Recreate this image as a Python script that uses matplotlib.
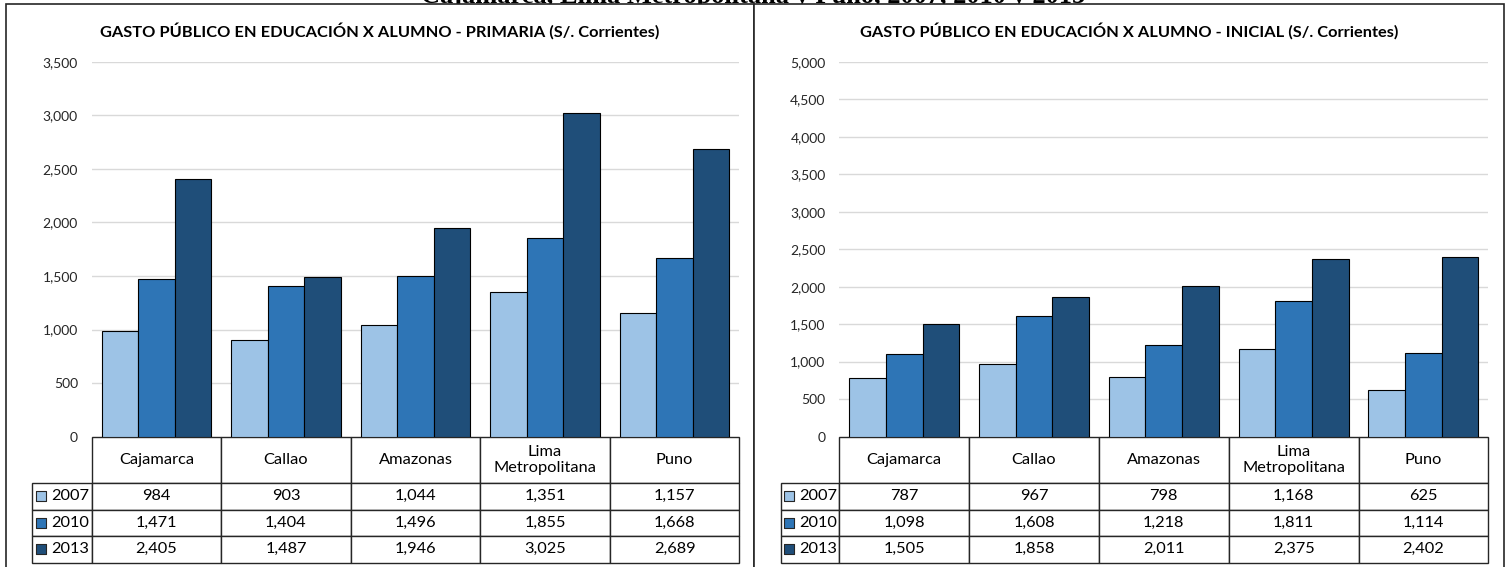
"""
Gasto público en educación por alumno - Primaria e Inicial.
Dos paneles con barras agrupadas y tabla de datos debajo.
"""

import matplotlib
matplotlib.use("Agg")
import matplotlib.pyplot as plt
from matplotlib.table import Table
from matplotlib.patches import Rectangle

W, H = 1507, 567

categories = ["Cajamarca", "Callao", "Amazonas", "Lima\nMetropolitana", "Puno"]
years = ["2007", "2010", "2013"]
colors = ["#9DC3E6", "#2E75B6", "#1F4E79"]

primaria_2007 = [984, 903, 1044, 1351, 1157]
primaria_2010 = [1471, 1404, 1496, 1855, 1668]
primaria_2013 = [2405, 1487, 1946, 3025, 2689]

inicial_2007 = [787, 967, 798, 1168, 625]
inicial_2010 = [1098, 1608, 1218, 1811, 1114]
inicial_2013 = [1505, 1858, 2011, 2375, 2402]

sup_title = "Cajamarca, Lima Metropolitana y Puno, 2007, 2010 y 2013"
title_primaria = "GASTO PÚBLICO EN EDUCACIÓN X ALUMNO - PRIMARIA (S/. Corrientes)"
title_inicial = "GASTO PÚBLICO EN EDUCACIÓN X ALUMNO - INICIAL (S/. Corrientes)"

plt.rcParams['font.family'] = ['Lato', 'DejaVu Sans']

# layout (pixels)
Y_TOP, Y_ZERO, Y_HDR, Y_BOTTOM = 62, 436.5, 483, 562.5
ROW_H = (Y_BOTTOM - Y_HDR) / 3
INK = '#262626'


def px_axes(fig, x0, y0, x1, y1):
    return fig.add_axes([x0 / W, 1 - y1 / H, (x1 - x0) / W, (y1 - y0) / H])


def draw_panel(fig, panel_x0, panel_x1, leg_x0, plot_x0, plot_x1, title, series, ymax):
    # panel frame (covers the cut title above)
    fig.add_artist(Rectangle((panel_x0 / W, -0.1), (panel_x1 - panel_x0) / W, 1.1 - 4 / H,
                             transform=fig.transFigure, facecolor='white',
                             edgecolor=INK, linewidth=1.2, zorder=1))
    fig.text((panel_x0 + panel_x1) / 2 / W, 1 - 31.5 / H, title, ha='center', va='center',
             fontsize=11.8, fontweight='bold', color='black', zorder=3)

    ax = px_axes(fig, plot_x0, Y_TOP, plot_x1, Y_ZERO)
    ax.set_zorder(2)
    ax.patch.set_visible(False)
    pw, ph = plot_x1 - plot_x0, Y_ZERO - Y_TOP

    bw = 0.282
    for j, vals in enumerate(series):
        xs = [i + (j - 1) * bw for i in range(len(categories))]
        ax.bar(xs, vals, width=bw, color=colors[j], edgecolor='black', linewidth=0.8, zorder=3)

    ax.set_xlim(-0.5, len(categories) - 0.5)
    ax.set_ylim(0, ymax)
    ticks = list(range(0, ymax + 1, 500))
    ax.set_yticks(ticks)
    ax.set_yticklabels([f"{t:,}" for t in ticks])
    ax.set_xticks([])
    ax.yaxis.grid(True, color='#D9D9D9', linewidth=1)
    ax.set_axisbelow(True)
    for s in ax.spines.values():
        s.set_visible(False)
    ax.tick_params(axis='y', length=0, pad=9.9, labelsize=10, labelcolor=INK)

    # data table
    tab_h = Y_BOTTOM - Y_ZERO
    tab = Table(ax, bbox=[(leg_x0 - plot_x0) / pw, -tab_h / ph, (plot_x1 - leg_x0) / pw, tab_h / ph])
    cat_w = pw / len(categories)
    leg_w = plot_x0 - leg_x0
    hdr_h = Y_HDR - Y_ZERO
    c = tab.add_cell(0, 0, width=leg_w, height=hdr_h, text='')
    c.visible_edges = ''
    for i, cat in enumerate(categories):
        tab.add_cell(0, i + 1, width=cat_w, height=hdr_h, text=cat, loc='center')
    for r, (yr, vals) in enumerate(zip(years, series)):
        c = tab.add_cell(r + 1, 0, width=leg_w, height=ROW_H, text=yr, loc='right')
        c.PAD = 0.04
        for i, v in enumerate(vals):
            tab.add_cell(r + 1, i + 1, width=cat_w, height=ROW_H, text=f"{v:,}", loc='center')
    tab.auto_set_font_size(False)
    tab.set_fontsize(11.8)
    for cell in tab.get_celld().values():
        cell.set_edgecolor(INK)
        cell.set_linewidth(1.0)
        cell.get_text().set_color('black')
    ax.add_table(tab)

    # legend keys inside the first column
    for r in range(len(years)):
        ax.scatter([(leg_x0 + 8.5 - plot_x0) / pw], [-(hdr_h + ROW_H * (r + 0.5)) / ph],
                   marker='s', s=52, facecolor=colors[r], edgecolor=INK, linewidth=0.8,
                   transform=ax.transAxes, clip_on=False, zorder=5)
    return ax


fig = plt.figure(figsize=(W / 100, H / 100), dpi=100)

fig.text(0.5, 1 - 3.5 / H, sup_title, ha='center', va='baseline', fontsize=19,
         fontweight='bold', family='Liberation Serif', zorder=0.5)

draw_panel(fig, 6, 754.3, 32.3, 91.7, 739.3, title_primaria,
           [primaria_2007, primaria_2010, primaria_2013], 3500)
draw_panel(fig, 754.3, 1504, 780.7, 839.3, 1488.3, title_inicial,
           [inicial_2007, inicial_2010, inicial_2013], 5000)

fig.savefig("out.png", dpi=100)
